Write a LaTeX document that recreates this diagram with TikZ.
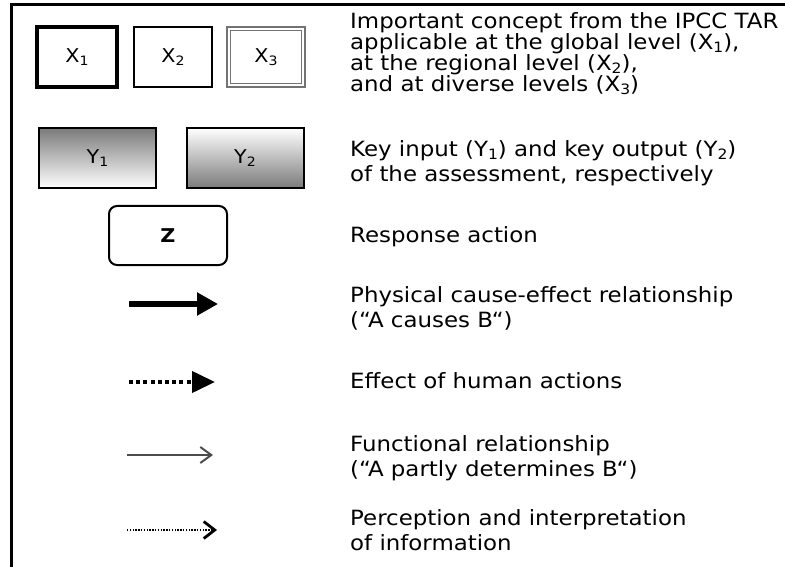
\documentclass[tikz,border=0pt]{standalone}
\usepackage{fontspec}
\setmainfont[FakeStretch=1.09]{DejaVu Sans}
\usetikzlibrary{arrows.meta}
\newcommand{\sbs}[1]{\raisebox{-0.14em}{\fontsize{0.68em}{0.7em}\selectfont #1}}
\tikzset{
  txt/.style={anchor=base west, inner sep=0pt, font=\fontsize{21}{20}\selectfont},
  txtblock/.style={anchor=north west, inner sep=0pt, align=left, font=\fontsize{21}{21}\selectfont},
  boxlbl/.style={font=\fontsize{19}{19}\selectfont},
  xbox/.style={draw, rectangle, inner sep=0pt, boxlbl},
  ybox/.style={draw, line width=2pt, rectangle, inner sep=0pt, boxlbl, minimum width=117pt, minimum height=60pt},
  causal/.style={line width=6pt, -{Triangle[length=21pt,width=22pt]}},
  human/.style={line width=4pt, dash pattern=on 4pt off 3.2pt, -{Triangle[length=23pt,width=21pt]}},
  funct/.style={line width=1.5pt, draw=black!70, -{Straight Barb[length=11pt,width=16pt,line width=2pt]}},
  percep/.style={line width=2pt, dash pattern=on 1.4pt off 1.4pt, -{Straight Barb[length=11pt,width=17pt,line width=2.8pt]}},
}
\begin{document}
\begin{tikzpicture}[x=1pt,y=-1pt]
\useasboundingbox (0,0) rectangle (785,567);
\coordinate (fbl) at (11.5,567);
\coordinate (ftr) at (785,5);
\draw[line width=3pt] (fbl) |- (ftr);

% X boxes
\node[xbox, line width=4pt, minimum width=80pt, minimum height=60pt] (x1) at (77,57) {X\sbs{1}};
\node[xbox, line width=2pt, minimum width=78pt, minimum height=60pt] (x2) at (173,57) {X\sbs{2}};
\node[xbox, draw=black!55, line width=1.8pt, double=white, double distance=1.8pt, minimum width=74.6pt, minimum height=56.6pt] (x3) at (266,57) {X\sbs{3}};

% Y boxes
\node[ybox, top color=black!52, bottom color=white] (y1) at (97.5,158) {Y\sbs{1}};
\node[ybox, top color=white, bottom color=black!52] (y2) at (245,158) {Y\sbs{2}};

% Z box
\node[draw, line width=2pt, rounded corners=8pt, minimum width=118pt, minimum height=59pt, boxlbl] (z) at (168,235.5) {\bfseries Z};

% arrows
\coordinate (a1s) at (129,304); \coordinate (a1e) at (218,304);
\draw[causal] (a1s) -- (a1e);
\coordinate (a2s) at (129,382); \coordinate (a2e) at (215,382);
\draw[human] (a2s) -- (a2e);
\coordinate (a3s) at (127,455); \coordinate (a3e) at (213,455);
\draw[funct] (a3s) -- (a3e);
\coordinate (a4s) at (127,530); \coordinate (a4e) at (217,530);
\draw[percep] (a4s) -- (a4e);

% texts
\node[txtblock] (t1) at (350,12) {Important concept from the IPCC TAR\\applicable at the global level (X\sbs{1}),\\at the regional level (X\sbs{2}),\\and at diverse levels (X\sbs{3})};

\node[txt] (t2a) at (350,157) {Key input (Y\sbs{1}) and key output (Y\sbs{2})};
\node[txt] (t2b) at (350,182) {of the assessment, respectively};

\node[txt] (t3) at (350,243) {Response action};

\node[txt] (t4a) at (350,302) {Physical cause-effect relationship};
\node[txt] (t4b) at (350,327) {(“A causes B“)};

\node[txt] (t5) at (350,388) {Effect of human actions};

\node[txt] (t6a) at (350,451) {Functional relationship};
\node[txt] (t6b) at (350,476) {(“A partly determines B“)};

\node[txt] (t7a) at (350,525) {Perception and interpretation};
\node[txt] (t7b) at (350,550) {of information};
\end{tikzpicture}
\end{document}
